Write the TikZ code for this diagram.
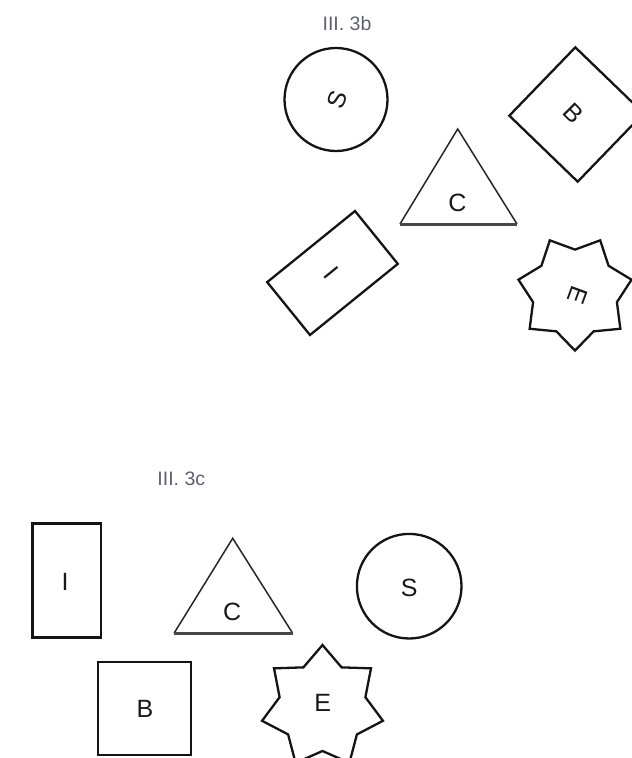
\documentclass[tikz,border=0pt]{standalone}
\usepackage{fontspec}
\setmainfont{Liberation Sans}
\definecolor{ttlgray}{RGB}{95,95,112}
\begin{document}
\begin{tikzpicture}[x=1pt,y=-1pt,
  shp/.style={line width=2.3pt, draw=black!92, line join=miter},
  tri/.style={line width=1.5pt, draw=black!85},
  tribase/.style={line width=3pt, draw=black!72},
  lbl/.style={inner sep=0pt, text depth=0pt, font=\fontsize{25}{25}\selectfont, text=black!90},
  ttl/.style={inner sep=0pt, text depth=0pt, font=\fontsize{19.5}{19.5}\selectfont, text=ttlgray}]
\useasboundingbox (0,0) rectangle (632,758);
\clip (0,0) rectangle (632,758);

% ---------- III. 3b ----------
\node[ttl] (t3b) at (347,23) {III. 3b};
% circle S
\draw[shp] (336,99.5) circle[radius=51.5];
\node[lbl, rotate=70] (bS) at (337,100) {S};
% rotated square B
\draw[shp, rotate around={46:(576.5,114.5)}] (529,67) rectangle (624,162);
\node[lbl, rotate=-45] (bB) at (573.5,113.5) {B};
% triangle C
\draw[tri] (400,224) -- (457.7,129) -- (517,224);
\draw[tribase] (400,224) -- (517,224);
\node[lbl] (bC) at (457.5,202.5) {C};
% rotated rectangle I
\draw[shp, rotate around={-51:(332.5,273)}] (298.5,216.5) rectangle (366.5,329.5);
\node[lbl, rotate=-51] (bI) at (331,273) {I};
% star E
\draw[shp, shift={(575,292.6)}] (90:58)
  \foreach \k in {0,...,6}{ -- ({90+\k*360/7+180/7}:43) -- ({90+(\k+1)*360/7}:58) } -- cycle;
\node[lbl, rotate=-110] (bE) at (578,295) {E};

% ---------- III. 3c ----------
\node[ttl] (t3c) at (181.3,478.3) {III. 3c};
% rectangle I
\draw[shp] (32.5,523.5) rectangle (101,637.5);
\node[lbl] (cI) at (65,581.7) {I};
% triangle C
\draw[tri] (174,633.3) -- (232.7,538.3) -- (292.7,633.3);
\draw[tribase] (174,633.3) -- (292.7,633.3);
\node[lbl] (cC) at (232.2,612.2) {C};
% circle S
\draw[shp] (409.2,586.2) circle[radius=52.3];
\node[lbl] (cS) at (409.3,587.3) {S};
% square B
\draw[shp] (98.3,661.7) rectangle (191,754.7);
\node[lbl] (cB) at (145,708.8) {B};
% star E
\draw[shp, shift={(322.5,707)}] (-90:62)
  \foreach \k in {0,...,6}{ -- ({-90+\k*360/7+180/7}:44) -- ({-90+(\k+1)*360/7}:62) } -- cycle;
\node[lbl] (cE) at (322.7,703.3) {E};
\end{tikzpicture}
\end{document}
